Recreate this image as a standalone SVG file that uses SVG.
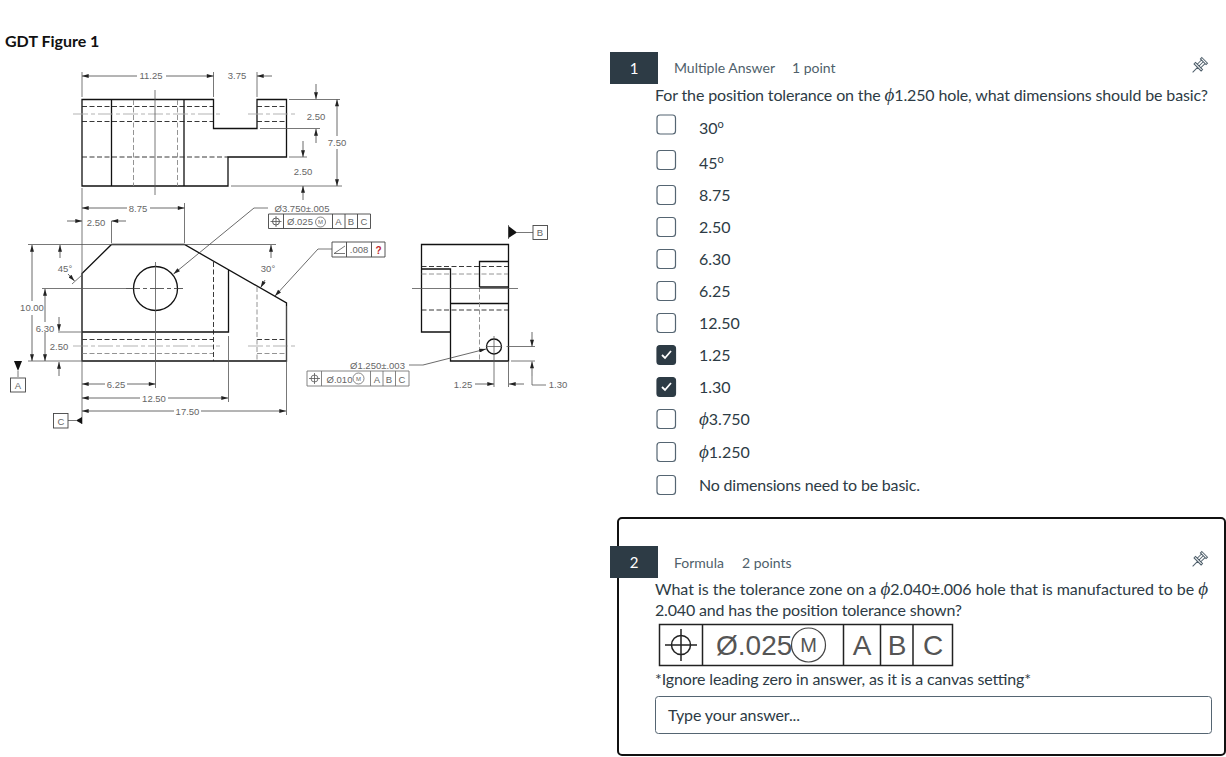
<svg xmlns="http://www.w3.org/2000/svg" width="1226" height="757" viewBox="0 0 1226 757">
<style>
.ob{fill:none;stroke:#111;stroke-width:1.3}
.da{fill:none;stroke:#222;stroke-width:.9;stroke-dasharray:5 2.500}
.dg{fill:none;stroke:#888;stroke-width:.9;stroke-dasharray:5 2.500}
.cl{fill:none;stroke:#aaa;stroke-width:.9;stroke-dasharray:15 3 4 3}
.cd{fill:none;stroke:#333;stroke-width:.8;stroke-dasharray:14 3 4 3}
.th{fill:none;stroke:#555;stroke-width:.8}
.ar{fill:none;stroke:#444;stroke-width:.8;marker-end:url(#a)}
.dim{font:9.500px "Liberation Sans",Arial,sans-serif;fill:#666;text-anchor:middle}
.sm{font-size:6px}
.ui{font-family:Lato,"Noto Sans",sans-serif;fill:#2d3b45}
.q{font-size:16px}
.m{font-size:14px;fill:#4f5f6b}
.box{fill:#fff;stroke:#556572;stroke-width:1.2}
.chk{fill:#2d3b45;stroke:#2d3b45;stroke-width:1.2}
.tick{fill:none;stroke:#fff;stroke-width:1.8}
.phi{font-family:"Liberation Serif",serif;font-style:italic}
.fcf{fill:#fff;stroke:#444;stroke-width:.9}
.big{font:28px "Liberation Sans",Arial,sans-serif;fill:#555}
.pin{fill:none;stroke:#4f5f6b;stroke-width:1}
</style>
<defs>
<marker id="a" viewBox="0 0 10 6" refX="10" refY="3" markerWidth="8" markerHeight="4" markerUnits="userSpaceOnUse" orient="auto"><path d="M0 0L10 3L0 6Z" fill="#222"/></marker>
<g id="pin-icon"><path class="pin" d="M-4 -8H4V-6H-4ZM-2.500 -6V0M2.500 -6V0M-5 0H5V2H-5ZM0 2V9M0 -6V0"/></g>
</defs>
<rect width="1226" height="757" fill="#fff"/>
<text id="figure-title" x="5" y="47" font-family="Lato,'Noto Sans',sans-serif" font-weight="700" font-size="16" fill="#111">GDT Figure 1</text>

<g id="top-view">
<path class="ob" d="M82 99.500H213.500V128.500H257V99.500H286.500V157H228V186H82ZM111.500 99.500V186M184 99.500V186"/>
<path class="da" d="M82 106.500H213M82 121.500H213M257 106.500H286M257 121.500H286M82 157H228"/>
<path class="dg" d="M133.500 100V186M177.500 100V186"/>
<path class="cl" d="M73 114H221M248 114H296"/>
<path class="th" d="M155 90V195"/>
</g>

<g id="front-view">
<path class="ob" d="M82 273.500L111.500 244.500H184.500L286.500 303V361H82ZM82 332H228.500V270"/>
<circle class="ob" cx="155.500" cy="288.500" r="22"/>
<path class="da" d="M82 339.500H213M257 339.500H286"/>
<path class="dg" d="M82 353.500H213M257 353.500H286M257 287V361"/>
<path class="da" d="M213.500 262V361"/>
<path class="cd" d="M126 288.500H183"/>
<path class="th" d="M155.500 262V388"/>
<path class="cl" d="M73 346H223M248 346H296"/>
</g>

<g id="right-view">
<path class="ob" d="M421.500 244.500H508.500V361H450.500V332H421.500ZM421.500 269H450.500V361M479.500 287V261.500H508.500M479.500 287H508.500M450.500 303.500H508.500"/>
<circle class="ob" cx="494" cy="346.500" r="7.500"/>
<path class="da" d="M421.500 266.500H508M421.500 310H508"/>
<path class="dg" d="M421.500 274H508M479.500 287V361"/>
<path class="th" d="M412 288.500H518M494 336V387M486 346.500H502"/>
</g>

<g id="connectors">
<path class="th" d="M82 72V97M213.500 72V97M257 72V97M82 188V424M111.500 221V243M184.500 203V243M28 244.500H276M42 288.500H132M58 332H81M28 361H81M228.500 336V402M286.500 306V415M289 99.500H340M260 128.500H320M289 157H307M231 186H342M72 284L82 275M254 208H268M318 249H332M409 365H423M511 361H535M506.500 346.500H535M508.500 361V387M546 385H532V376M18 371V377M68 420.500H76M517 232.500H533M508.500 225V239"/>
<path class="ar" d="M137 76H82"/><path class="ar" d="M166 76H213.500"/><path class="ar" d="M272 76H257"/>
<path class="ar" d="M316 84V99"/><path class="ar" d="M316 143V129"/><path class="ar" d="M303 141V157"/><path class="ar" d="M303 200V186"/><path class="ar" d="M337 136V99.500"/><path class="ar" d="M337 149V186"/>
<path class="ar" d="M127 208H82"/><path class="ar" d="M150 208H184.500"/><path class="ar" d="M67 221H82"/><path class="ar" d="M126 221H111.500"/>
<path class="ar" d="M32 301V245"/><path class="ar" d="M32 315V361"/><path class="ar" d="M45 322V289"/><path class="ar" d="M45 332V361"/>
<path class="ar" d="M59 317V331"/><path class="ar" d="M59 376V362"/>
<path class="ar" d="M60 258V245"/><path class="ar" d="M68 274L74.500 281"/>
<path class="ar" d="M271 258V245"/><path class="ar" d="M265 280L260.700 287.500"/>
<path class="ar" d="M105 384H82"/><path class="ar" d="M127 384H155.500"/><path class="ar" d="M140 398H82"/><path class="ar" d="M168 398H228"/><path class="ar" d="M174 411H82"/><path class="ar" d="M201 411H286"/>
<path class="ar" d="M254 208L173.500 274"/>
<path class="ar" d="M318 249L275 296"/>
<path class="ar" d="M423 365L486 349"/>
<path class="ar" d="M475 384H494"/><path class="ar" d="M524 384H509"/>
<path class="ar" d="M532 332V346.500"/><path class="ar" d="M532 376V361.500"/>
</g>

<g id="datums">
<path d="M14 361H22L18 371Z" fill="#111"/>
<rect class="fcf" x="10.500" y="378" width="15" height="14"/>
<text class="dim" x="18" y="388.500">A</text>
<path d="M82 417V424L76 420.500Z" fill="#111"/>
<rect class="fcf" x="53.500" y="413.500" width="14.500" height="14.500"/>
<text class="dim" x="61" y="424.500">C</text>
<path d="M508.500 226V238L517 232.500Z" fill="#111"/>
<rect class="fcf" x="533" y="225.500" width="14.500" height="14"/>
<text class="dim" x="540" y="236">B</text>
</g>

<g id="dimension-labels">
<text class="dim" x="151" y="79">11.25</text>
<text class="dim" x="237" y="79">3.75</text>
<text class="dim" x="316" y="119.500">2.50</text>
<text class="dim" x="337" y="146">7.50</text>
<text class="dim" x="303" y="175">2.50</text>
<text class="dim" x="138" y="211.500">8.75</text>
<text class="dim" x="96" y="226">2.50</text>
<text class="dim" x="65" y="272">45°</text>
<text class="dim" x="268" y="272">30°</text>
<text class="dim" x="32" y="311">10.00</text>
<text class="dim" x="45" y="332">6.30</text>
<text class="dim" x="59" y="350">2.50</text>
<text class="dim" x="116" y="388">6.25</text>
<text class="dim" x="154" y="402">12.50</text>
<text class="dim" x="187.500" y="415">17.50</text>
<text class="dim" x="463" y="388">1.25</text>
<text class="dim" x="558" y="388">1.30</text>
<text class="dim" x="302" y="211.500">Ø3.750±.005</text>
<text class="dim" x="377.500" y="369">Ø1.250±.003</text>
</g>

<g id="fcf-3750">
<path class="fcf" d="M268.500 214H370.500V228.500H268.500ZM283.500 214V228.500M332.500 214V228.500M345 214V228.500M357.500 214V228.500"/>
<circle cx="276" cy="221.500" r="3.500" fill="none" stroke="#333" stroke-width=".8"/><path class="th" d="M270.500 221.500H281.500M276 216V227"/>
<text class="dim" x="300" y="225">Ø.025</text>
<circle cx="320.500" cy="222" r="5" fill="none" stroke="#555" stroke-width=".7"/>
<text x="320.500" y="224.200" class="dim sm">M</text>
<text class="dim" x="338.500" y="225">A</text><text class="dim" x="351" y="225">B</text><text class="dim" x="364" y="225">C</text>
</g>

<g id="fcf-angle">
<path class="fcf" d="M332 242H385V257H332ZM346.500 242V257M371.500 242V257"/>
<path class="th" d="M334 253.500H345M334 253.500L345 246"/>
<text class="dim" x="359" y="253">.008</text>
<text x="378.500" y="254" font-family="'Liberation Sans',sans-serif" font-weight="700" font-size="10" text-anchor="middle" fill="#c0272d">?</text>
</g>

<g id="fcf-1250">
<path class="fcf" d="M307 371H409V386H307ZM321.500 371V386M370.500 371V386M383 371V386M395.500 371V386" style="stroke:#777"/>
<circle cx="314.500" cy="378.500" r="3.500" fill="none" stroke="#555" stroke-width=".8"/><path class="th" d="M309 378.500H320M314.500 373V384"/>
<text class="dim" x="339.500" y="382.500">Ø.010</text>
<circle cx="358.500" cy="378.500" r="5.500" fill="none" stroke="#555" stroke-width=".7"/>
<text x="358.500" y="381" class="dim sm">M</text>
<text class="dim" x="377" y="382.500">A</text><text class="dim" x="389" y="382.500">B</text><text class="dim" x="402" y="382.500">C</text>
</g>

<g id="question-1">
<rect x="610" y="52" width="48" height="32" fill="#2d3b45"/>
<text x="634" y="74" text-anchor="middle" font-family="Lato,sans-serif" font-size="15" fill="#fff">1</text>
<text class="ui m" x="674" y="73">Multiple Answer</text>
<text class="ui m" x="792" y="73">1 point</text>
<use href="#pin-icon" transform="translate(1199 66) rotate(45)"/>
<text class="ui q" x="655" y="101" textLength="553" lengthAdjust="spacing">For the position tolerance on the <tspan class="phi" font-size="19">ϕ</tspan>1.250 hole, what dimensions should be basic?</text>
</g>

<g id="options">
<rect class="box" x="657" y="115" width="18.500" height="19" rx="3"/><text class="ui q" x="699" y="134">30<tspan font-size="11" dy="-6">o</tspan></text>
<rect class="box" x="657" y="150.500" width="18.500" height="19" rx="3"/><text class="ui q" x="699" y="169">45<tspan font-size="11" dy="-6">o</tspan></text>
<rect class="box" x="657" y="185.500" width="18.500" height="19" rx="3"/><text class="ui q" x="699" y="201">8.75</text>
<rect class="box" x="657" y="217.500" width="18.500" height="19" rx="3"/><text class="ui q" x="699" y="233">2.50</text>
<rect class="box" x="657" y="249.500" width="18.500" height="19" rx="3"/><text class="ui q" x="699" y="265">6.30</text>
<rect class="box" x="657" y="281.500" width="18.500" height="19" rx="3"/><text class="ui q" x="699" y="297">6.25</text>
<rect class="box" x="657" y="313.500" width="18.500" height="19" rx="3"/><text class="ui q" x="699" y="329">12.50</text>
<rect class="chk" x="657" y="345.500" width="18.500" height="19" rx="3"/><path class="tick" d="M662 355L665 358L671 351"/><text class="ui q" x="699" y="361">1.25</text>
<rect class="chk" x="657" y="377.500" width="18.500" height="19" rx="3"/><path class="tick" d="M662 387L665 390L671 383"/><text class="ui q" x="699" y="393">1.30</text>
<rect class="box" x="657" y="409.500" width="18.500" height="19" rx="3"/><text class="ui q" x="699" y="425"><tspan class="phi" font-size="19">ϕ</tspan>3.750</text>
<rect class="box" x="657" y="442.500" width="18.500" height="19" rx="3"/><text class="ui q" x="699" y="458"><tspan class="phi" font-size="19">ϕ</tspan>1.250</text>
<rect class="box" x="657" y="475.500" width="18.500" height="19" rx="3"/><text class="ui q" x="699" y="491" textLength="221" lengthAdjust="spacing">No dimensions need to be basic.</text>
</g>

<g id="question-2">
<rect x="618" y="518" width="607" height="237" rx="4" fill="#fff" stroke="#111" stroke-width="2"/>
<rect x="610" y="546" width="48" height="32" fill="#2d3b45"/>
<text x="634" y="568" text-anchor="middle" font-family="Lato,sans-serif" font-size="15" fill="#fff">2</text>
<text class="ui m" x="674" y="568">Formula</text>
<text class="ui m" x="742" y="568">2 points</text>
<use href="#pin-icon" transform="translate(1199 560) rotate(45)"/>
<text class="ui q" x="655" y="595" textLength="553" lengthAdjust="spacing">What is the tolerance zone on a <tspan class="phi" font-size="19">ϕ</tspan>2.040±.006 hole that is manufactured to be <tspan class="phi" font-size="19">ϕ</tspan></text>
<text class="ui q" x="655" y="616" textLength="307" lengthAdjust="spacing">2.040 and has the position tolerance shown?</text>
<text class="ui q" x="655" y="685" textLength="376" lengthAdjust="spacing">*Ignore leading zero in answer, as it is a canvas setting*</text>
<rect x="655.500" y="696.500" width="556" height="37" rx="3" fill="#fff" stroke="#556572" stroke-width="1"/>
<text class="ui" x="668" y="721" font-size="16" fill="#4f5f6b" textLength="132" lengthAdjust="spacing">Type your answer...</text>
</g>

<g id="fcf-question">
<path d="M659.500 624.500H952.500V665.500H659.500ZM702.500 624.500V665.500M843.500 624.500V665.500M880.500 624.500V665.500M913 624.500V665.500" fill="#fff" stroke="#222" stroke-width="1.500"/>
<circle cx="681" cy="645" r="9.500" fill="none" stroke="#222" stroke-width="1.500"/>
<path d="M665 645H697M681 629V661" fill="none" stroke="#222" stroke-width="1.500"/>
<text class="big" x="716" y="655">Ø.025</text>
<circle cx="808.500" cy="645" r="17" fill="none" stroke="#444" stroke-width="1.200"/>
<text x="808.500" y="652" text-anchor="middle" font-family="'Liberation Sans',sans-serif" font-size="20" fill="#555">M</text>
<text class="big" x="862" y="655" text-anchor="middle">A</text>
<text class="big" x="897" y="655" text-anchor="middle">B</text>
<text class="big" x="933" y="655" text-anchor="middle">C</text>
</g>
</svg>
